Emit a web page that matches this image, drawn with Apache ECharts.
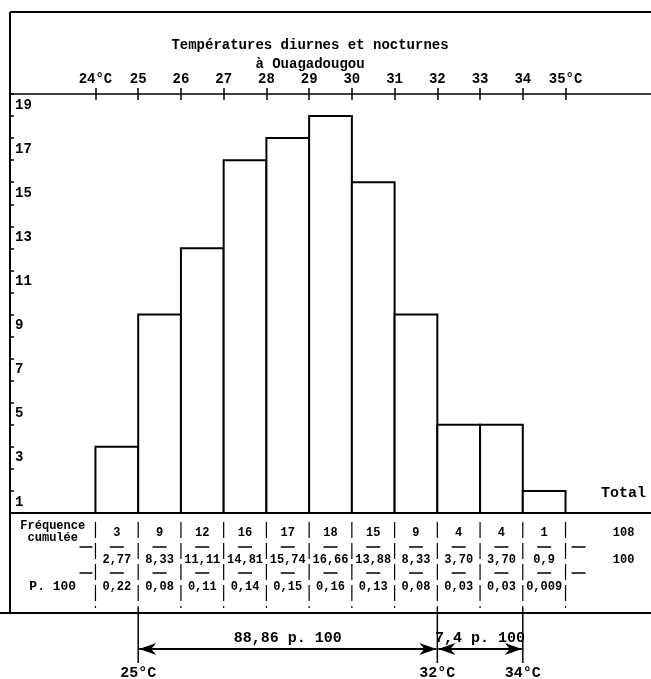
<!DOCTYPE html>
<html>
<head>
<meta charset="utf-8">
<script src="https://cdn.jsdelivr.net/npm/echarts@6/dist/echarts.min.js"></script>
<style>
html,body{margin:0;padding:0;background:#fff;}
#chart{width:651px;height:679px;}
</style>
</head>
<body>
<div id="chart"></div>
<script>
// ---- data ----
const tempTicks = [24, 25, 26, 27, 28, 29, 30, 31, 32, 33, 34, 35];
const tempLabels = ['24°C', '25', '26', '27', '28', '29', '30', '31', '32', '33', '34', '35°C'];
const yLabels = ['1','2','3','4','5','6','7','8','9','10','11','12','13','14','15','16','17','18','19'];
const binStarts = [24, 25, 26, 27, 28, 29, 30, 31, 32, 33, 34];
const freq = [3, 9, 12, 16, 17, 18, 15, 9, 4, 4, 1];
const pct = ['2,77', '8,33', '11,11', '14,81', '15,74', '16,66', '13,88', '8,33', '3,70', '3,70', '0,9'];
const perDeg = ['0,22', '0,08', '0,11', '0,14', '0,15', '0,16', '0,13', '0,08', '0,03', '0,03', '0,009'];
const totalFreq = '108';
const totalPct = '100';
const rowHeaders = ['Fréquence', 'cumulée', 'P. 100', 'Total'];
const spans = [[25, 32], [32, 34]];
const spanLabels = ['88,86 p. 100', '7,4 p. 100'];
const markerTemps = [25, 32, 34];
const markerLabels = ['25°C', '32°C', '34°C'];
const titleText = 'Températures diurnes et nocturnes\nà Ouagadougou';

const F = '"Liberation Mono", "DejaVu Sans Mono", monospace';

function txt(t, x, y, size) {
  return { type: 'text', x: x, y: y, style: { text: t, fill: '#000', fontFamily: F, fontSize: size || 12, fontWeight: 'bold', align: 'center', verticalAlign: 'middle' } };
}
function ln(x1, y1, x2, y2, w, dash) {
  const st = { stroke: '#000', lineWidth: w || 1.5 };
  if (dash) st.lineDash = dash;
  return { type: 'line', shape: { x1: x1, y1: y1, x2: x2, y2: y2 }, style: st };
}

const chart = echarts.init(document.getElementById('chart'), null, { renderer: 'canvas' });

const option = {
  backgroundColor: '#fff',
  animation: false,
  title: {
    text: titleText, left: 305, top: 31, textAlign: 'center',
    textStyle: { fontFamily: F, fontSize: 14, fontWeight: 'bold', color: '#000', lineHeight: 19 }
  },
  grid: { left: 10, right: 0, top: 94, bottom: 166 },
  xAxis: [
    {
      type: 'value', position: 'top', min: 22, max: 37,
      splitLine: { show: false },
      axisLine: { show: true, onZero: false, lineStyle: { color: '#000', width: 1.5 } },
      axisTick: { show: true, customValues: tempTicks, length: 6, lineStyle: { color: '#000', width: 1.5 } },
      axisLabel: {
        customValues: tempTicks, margin: 8,
        formatter: function (v) { const i = tempTicks.indexOf(v); return i >= 0 ? tempLabels[i] : ''; },
        fontFamily: F, fontSize: 14, fontWeight: 'bold', color: '#000'
      }
    },
    {
      type: 'value', position: 'top', min: 22, max: 37,
      splitLine: { show: false },
      axisLine: { show: false, onZero: false },
      axisTick: { show: true, inside: true, customValues: tempTicks, length: 6, lineStyle: { color: '#000', width: 1.5 } },
      axisLabel: { show: false }
    },
    {
      type: 'value', position: 'bottom', min: 22, max: 37,
      splitLine: { show: false },
      axisLine: { show: true, onZero: false, lineStyle: { color: '#000', width: 2 } },
      axisTick: { show: false },
      axisLabel: { show: false }
    }
  ],
  yAxis: [
    {
      type: 'value', position: 'left', min: 0, max: 19, interval: 1,
      splitLine: { show: false },
      axisLine: { show: true, onZero: false, lineStyle: { color: '#000', width: 2 } },
      axisTick: { show: true, inside: true, length: 4, lineStyle: { color: '#000', width: 1.5 } },
      axisLabel: { show: false }
    },
    {
      type: 'category', position: 'left', data: yLabels,
      axisLine: { show: false, onZero: false },
      axisTick: { show: false },
      axisLabel: { inside: true, interval: 1, margin: 5, fontFamily: F, fontSize: 14, fontWeight: 'bold', color: '#000' }
    }
  ],
  graphic: [
    { type: 'line', shape: { x1: 10, y1: 12, x2: 651, y2: 12 }, style: { stroke: '#000', lineWidth: 2 } },
    { type: 'line', shape: { x1: 10, y1: 12, x2: 10, y2: 613 }, style: { stroke: '#000', lineWidth: 2 } },
    { type: 'line', shape: { x1: 0, y1: 613, x2: 651, y2: 613 }, style: { stroke: '#000', lineWidth: 2 } }
  ],
  series: [
    {
      name: 'bars', type: 'custom', xAxisIndex: 0, yAxisIndex: 0, silent: true, z: 3,
      data: binStarts.map(function (s, i) { return [s, freq[i]]; }),
      encode: { x: 0, y: 1 },
      renderItem: function (params, api) {
        const s = api.value(0), h = api.value(1);
        const p0 = api.coord([s, 0]), p1 = api.coord([s + 1, h]);
        return { type: 'rect', shape: { x: p0[0], y: p1[1], width: p1[0] - p0[0], height: p0[1] - p1[1] },
          style: { fill: '#fff', stroke: '#000', lineWidth: 2 } };
      }
    },
    {
      name: 'table', type: 'custom', xAxisIndex: 0, yAxisIndex: 0, silent: true, clip: false,
      data: binStarts.map(function (s) { return [s, 0]; }),
      encode: { x: 0, y: 1 },
      renderItem: function (params, api) {
        const i = params.dataIndex;
        const s = binStarts[i];
        const pL = api.coord([s, 0]), pR = api.coord([s + 1, 0]);
        const cx = (pL[0] + pR[0]) / 2, b = pL[1];
        const ch = [
          txt(String(freq[i]), cx, b + 20, 12),
          ln(cx - 7, b + 34, cx + 7, b + 34, 1.5),
          txt(pct[i], cx, b + 47, 12),
          ln(cx - 7, b + 60, cx + 7, b + 60, 1.5),
          txt(perDeg[i], cx, b + 74, 12),
          ln(pL[0], b + 9, pL[0], b + 95, 1.2, [16, 5])
        ];
        if (i === binStarts.length - 1) ch.push(ln(pR[0], b + 9, pR[0], b + 95, 1.2, [16, 5]));
        return { type: 'group', children: ch };
      }
    },
    {
      name: 'headers', type: 'custom', xAxisIndex: 0, yAxisIndex: 0, silent: true, clip: false,
      data: [[binStarts[0], 0]],
      encode: { x: 0, y: 1 },
      renderItem: function (params, api) {
        const p0 = api.coord([binStarts[0], 0]);
        const pN = api.coord([binStarts[binStarts.length - 1] + 1, 0]);
        const b = p0[1];
        const lx = (10 + p0[0]) / 2;
        const rx = pN[0] + 58;
        return { type: 'group', children: [
          txt(rowHeaders[0], lx, b + 13, 12),
          txt(rowHeaders[1], lx, b + 25, 12),
          ln(p0[0] - 16, b + 34, p0[0] - 3, b + 34, 1.5),
          ln(p0[0] - 16, b + 60, p0[0] - 3, b + 60, 1.5),
          txt(rowHeaders[2], lx, b + 74, 13),
          txt(totalFreq, rx, b + 20, 12),
          txt(totalPct, rx, b + 47, 12),
          ln(pN[0] + 6, b + 34, pN[0] + 20, b + 34, 1.5),
          ln(pN[0] + 6, b + 60, pN[0] + 20, b + 60, 1.5),
          txt(rowHeaders[3], rx, b - 20, 15)
        ] };
      }
    },
    {
      name: 'spans', type: 'custom', xAxisIndex: 0, yAxisIndex: 0, silent: true, clip: false,
      data: spans.map(function (sp) { return [sp[0], sp[1]]; }),
      encode: { x: [0, 1] },
      renderItem: function (params, api) {
        const j = params.dataIndex;
        const pa = api.coord([spans[j][0], 0]), pb = api.coord([spans[j][1], 0]);
        const b = pa[1];
        const y = b + 136;
        const xa = pa[0] + 1, xb = pb[0] - 1;
        return { type: 'group', children: [
          ln(xa, y, xb, y, 2),
          { type: 'polygon', shape: { points: [[xa, y], [xa + 17, y - 6], [xa + 12, y], [xa + 17, y + 6]] }, style: { fill: '#000' } },
          { type: 'polygon', shape: { points: [[xb, y], [xb - 17, y - 6], [xb - 12, y], [xb - 17, y + 6]] }, style: { fill: '#000' } },
          txt(spanLabels[j], (pa[0] + pb[0]) / 2, b + 125, 15)
        ] };
      }
    },
    {
      name: 'markers', type: 'custom', xAxisIndex: 0, yAxisIndex: 0, silent: true, clip: false,
      data: markerTemps.map(function (t) { return [t, 0]; }),
      encode: { x: 0, y: 1 },
      renderItem: function (params, api) {
        const k = params.dataIndex;
        const p = api.coord([markerTemps[k], 0]);
        const b = p[1];
        return { type: 'group', children: [
          ln(p[0], b + 95, p[0], b + 150, 1.5),
          txt(markerLabels[k], p[0], b + 160, 15)
        ] };
      }
    }
  ]
};
chart.setOption(option);
</script>
</body>
</html>
